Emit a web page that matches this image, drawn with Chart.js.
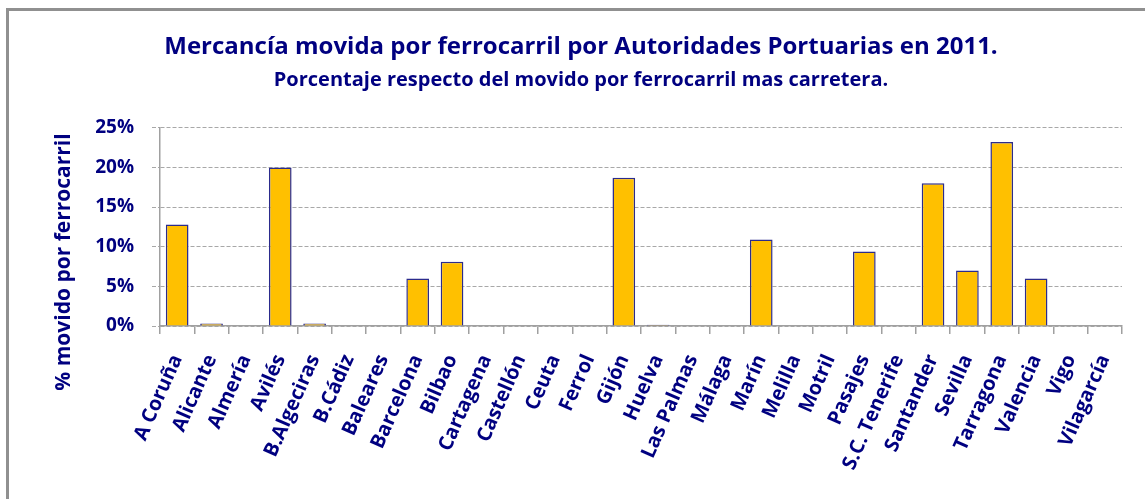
<!DOCTYPE html>
<html>
<head>
<meta charset="utf-8">
<script src="https://cdn.jsdelivr.net/npm/chart.js@4"></script>
<style>
  body { margin: 0; background: #fff; overflow: hidden; }
  #wrap { position: relative; width: 1145px; height: 499px; }
  #frame { position: absolute; left: 6px; top: 8px; width: 1160px; height: 520px;
           border-left: 3px solid #909090; border-top: 3px solid #909090; }
  canvas { position: absolute; left: 0; top: 0; }
</style>
</head>
<body>
<div id="wrap">
  <div id="frame"></div>
  <canvas id="railChart" width="1145" height="499"></canvas>
</div>
<script>
const puertos = ['A Coruña', 'Alicante', 'Almería', 'Avilés', 'B.Algeciras', 'B.Cádiz', 'Baleares',
  'Barcelona', 'Bilbao', 'Cartagena', 'Castellón', 'Ceuta', 'Ferrol', 'Gijón', 'Huelva',
  'Las Palmas', 'Málaga', 'Marín', 'Melilla', 'Motril', 'Pasajes', 'S.C. Tenerife',
  'Santander', 'Sevilla', 'Tarragona', 'Valencia', 'Vigo', 'Vilagarcía']
const porcentaje = [12.8, 0.3, 0, 20.0, 0.3, 0, 0,
  6.0, 8.1, 0, 0, 0, 0, 18.7, 0.15,
  0, 0, 10.9, 0, 0, 9.4, 0,
  18.0, 7.0, 23.2, 6.0, 0, 0]
const yTicks = [0, 5, 10, 15, 20, 25]

const navy = '#000080'
const font = 'Open Sans'

// y axis title sits lower than the plot centre, so draw it by hand
const yTitlePlugin = {
  id: 'yTitle',
  afterDraw(chart) {
    const ctx = chart.ctx
    ctx.save()
    ctx.translate(64, 262)
    ctx.rotate(-Math.PI / 2)
    ctx.font = 'bold 21px "' + font + '"'
    ctx.fillStyle = navy
    ctx.textAlign = 'center'
    ctx.textBaseline = 'middle'
    ctx.fillText('% movido por ferrocarril', 0, 0)
    ctx.restore()
  }
}

var ctx = document.getElementById('railChart').getContext('2d');
var myChart = new Chart(ctx, {
  type: 'bar',
  data: {
    labels: puertos,
    datasets: [{
      data: porcentaje,
      backgroundColor: '#FFC000',
      borderColor: '#2B2B8C',
      borderWidth: 1.5,
      barPercentage: 0.66,
      categoryPercentage: 1.0
    }]
  },
  options: {
    responsive: false,
    animation: false,
    layout: { padding: { left: 40, right: 23, top: 0, bottom: 0 } },
    plugins: {
      legend: { display: false },
      tooltip: { enabled: false },
      title: {
        display: true,
        text: 'Mercancía movida por ferrocarril por Autoridades Portuarias en 2011.',
        color: navy,
        font: { family: font, size: 24, weight: 'bold' },
        padding: { top: 33, bottom: 3 }
      },
      subtitle: {
        display: true,
        text: 'Porcentaje respecto del movido por ferrocarril mas carretera.',
        color: navy,
        font: { family: font, size: 20, weight: 'bold' },
        padding: { top: 3, bottom: 36 }
      }
    },
    scales: {
      x: {
        afterFit: (s) => { s.height = 173 },
        grid: { drawOnChartArea: false, tickLength: 8, color: '#a0a0a0', lineWidth: 1.5 },
        border: { color: '#a0a0a0', width: 1.5 },
        ticks: {
          autoSkip: false, minRotation: 66, maxRotation: 66, padding: 17,
          color: navy, font: { family: font, size: 20, weight: 'bold' }
        }
      },
      y: {
        min: 0,
        max: 25,
        afterFit: (s) => { s.width = 120 },
        afterBuildTicks: (s) => { s.ticks = yTicks.map((v) => ({ value: v })) },
        grid: { color: '#a8a8a8', tickLength: 8, tickBorderDash: [4, 2] },
        border: { color: '#a0a0a0', width: 1.5, dash: [4, 2] },
        ticks: {
          padding: 18,
          color: navy,
          font: { family: font, size: 19, weight: 'bold' },
          callback: (v) => v + '%'
        }
      }
    }
  },
  plugins: [yTitlePlugin]
});
</script>
</body>
</html>
